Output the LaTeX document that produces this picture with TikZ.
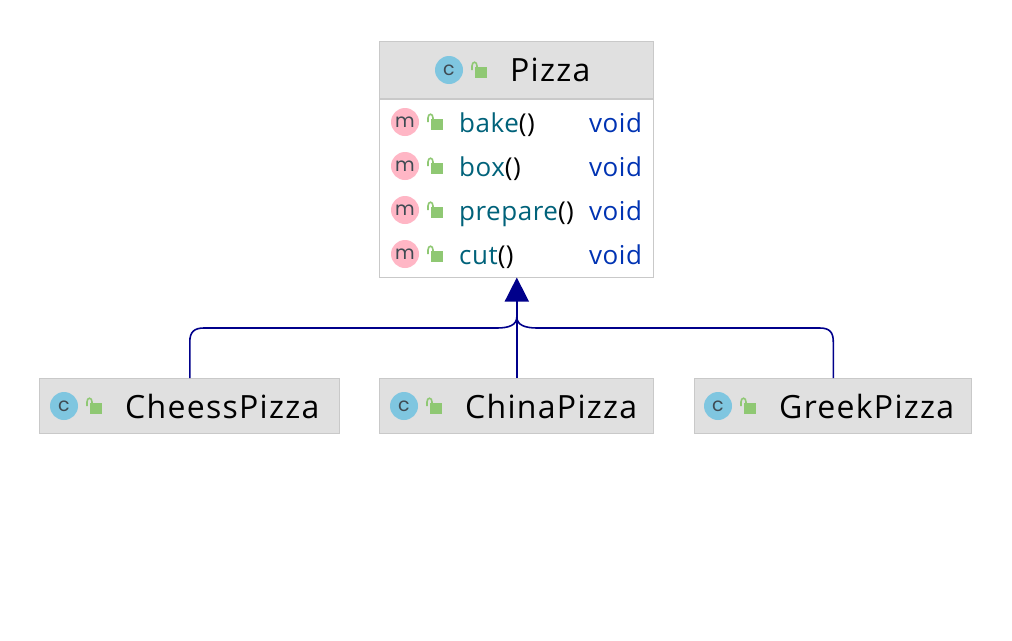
\documentclass[tikz,border=0pt]{standalone}
\usepackage{fontspec}
\setmainfont{Open Sans}
\newfontfamily\dotfont{Poppins}
\newfontfamily\titlefont[LetterSpace=4]{Open Sans}
\newfontfamily\memberfont[LetterSpace=2]{Open Sans}
\usetikzlibrary{arrows.meta}
\definecolor{headfill}{HTML}{E0E0E0}
\definecolor{boxline}{HTML}{C9C9C9}
\definecolor{linkblue}{HTML}{00008B}
\definecolor{methodtxt}{HTML}{00627A}
\definecolor{voidtxt}{HTML}{0033B3}
\definecolor{classdot}{HTML}{7FC6E0}
\definecolor{methoddot}{HTML}{FFB6C5}
\definecolor{lockgreen}{HTML}{8FC873}
\definecolor{dotlabel}{HTML}{3F4A52}
\tikzset{
    classbox/.style={draw=boxline,line width=1pt,fill=headfill,inner sep=0pt},
    bodybox/.style={draw=boxline,line width=1pt,fill=white,inner sep=0pt},
    dot/.style={circle,fill=#1,minimum size=28pt,inner sep=0pt,text=dotlabel,font=\dotfont\fontsize{19}{19}\selectfont},
    title/.style={inner sep=0pt,anchor=base west,font=\titlefont\fontsize{32}{32}\selectfont},
    member/.style={inner sep=0pt,anchor=base west,font=\memberfont\fontsize{26}{26}\selectfont},
    link/.style={draw=linkblue,line width=1.6pt},
    unlocked/.pic={
        \fill[lockgreen] (-1,-3) rectangle (11,8);
        \draw[lockgreen,line width=1.6pt] (-4,0)--(-4,-4) .. controls (-4,-9) and (1,-9) .. (1,-4)--(1,-2);
    }
}
\begin{document}
\begin{tikzpicture}[x=1pt,y=-1pt]
    \useasboundingbox (0,0) rectangle (1012,640);
    % parent class
    \node[classbox,minimum width=274pt,minimum height=58pt] (pizza) at (516.8,70) {};
    \node[bodybox,minimum width=274pt,minimum height=178pt] (pizzabody) at (516.8,188) {};
    \draw[draw=boxline,line width=2pt] (pizzabody.north west)--(pizzabody.north east);
    \node[dot=classdot] (pizzadot) at (449,70) {c};
    \pic at (476,70) {unlocked};
    \node[title] (pizzaname) at (510,81.5) {Pizza};
    % methods
    \foreach \name/\ypos/\word in {bake/122/bake,box/166/box,prepare/210/prepare,cut/254/cut}{
        \node[dot=methoddot] (\name dot) at (405,\ypos) {m};
        \pic at (432,\ypos) {unlocked};
        \node[member] (\name txt) at (459,\ypos+10) {\textcolor{methodtxt}{\word}()};
        \node[member,text=voidtxt] (\name type) at (589,\ypos+10) {void};
    }
    % subclasses
    \foreach \name/\xpos/\wide/\label/\dotx/\textx in {
        cheess/189.8/300/CheessPizza/64/125,
        china/516.8/274/ChinaPizza/404/465,
        greek/833.3/277/GreekPizza/718/779}{
        \node[classbox,minimum width=\wide pt,minimum height=55pt] (\name) at (\xpos,406) {};
        \node[dot=classdot] (\name dot) at (\dotx,406) {c};
        \pic at (\dotx+27,406) {unlocked};
        \node[title] (\name txt) at (\textx,418) {\label};
    }
    % inheritance
    \coordinate (trunk) at (516.8,317);
    \draw[link] (cheess.north)--(189.8,342) .. controls (189.8,332) and (194,328) .. (204,328)--(497,328) .. controls (509,328) and (516.8,325) .. (trunk);
    \draw[link] (greek.north)--(833.3,342) .. controls (833.3,332) and (829.5,328) .. (819.5,328)--(537,328) .. controls (525,328) and (516.8,325) .. (trunk);
    \draw[link,-{Triangle[length=24pt,width=24pt]}] (china.north)--(pizzabody.south);
\end{tikzpicture}
\end{document}
